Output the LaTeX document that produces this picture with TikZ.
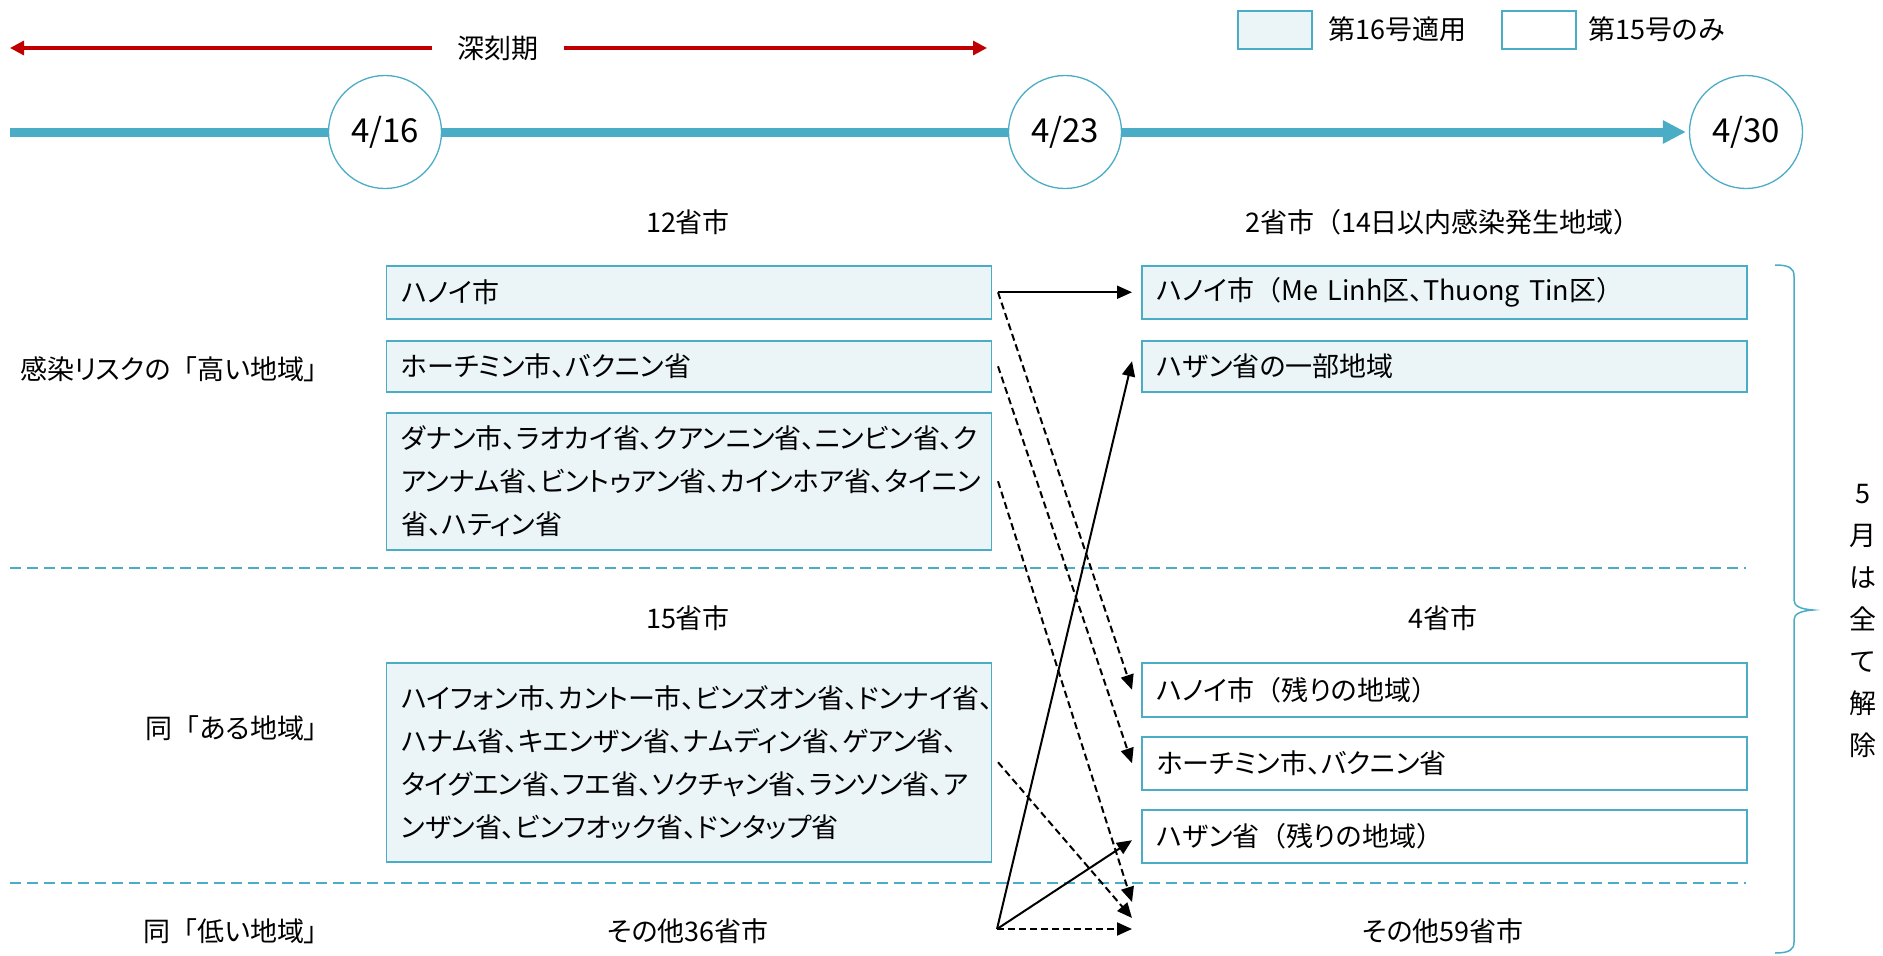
\documentclass[tikz,border=0pt]{standalone}
\usepackage{fontspec}
\setmainfont{Noto Sans CJK JP}[RawFeature={+palt}]
\newfontfamily\jpnopalt{Noto Sans CJK JP}
\newcommand\fwlp{{\jpnopalt （}}
\newcommand\fwrp{{\jpnopalt ）}}
\newcommand\fwlb{{\jpnopalt 「}}
\usetikzlibrary{arrows.meta,backgrounds}
\definecolor{aqua}{HTML}{4BACC6}
\definecolor{lightaqua}{HTML}{EBF5F8}
\definecolor{deepred}{HTML}{C00000}
\newcommand\fsbody{\fontsize{27}{43}\selectfont}
\newcommand\fsday{\fontsize{33}{38}\selectfont}
\tikzset{
  box/.style={draw=aqua, line width=1.5pt, fill=lightaqua, inner xsep=15pt, inner ysep=0pt,
    text width=575pt, align=left, anchor=north west, font=\fsbody},
  wbox/.style={box, fill=white},
  day/.style={circle, draw=aqua, line width=1.3pt, fill=white, minimum size=113pt, inner sep=0pt, font=\fsday},
  lbl/.style={font=\fsbody, inner sep=0pt},
  sol/.style={line width=2pt, -{Triangle[length=15pt,width=13pt]}},
  dsh/.style={sol, dash pattern=on 7pt off 4pt},
  sepline/.style={draw=aqua, line width=1.2pt, dash pattern=on 11pt off 6pt},
  legbox/.style={draw=aqua, line width=1.5pt, minimum width=74pt, minimum height=38pt, anchor=north west, inner sep=0pt},
  bracecol/.style={draw=aqua, line width=1.5pt},
}
\begin{document}
\begin{tikzpicture}[x=1pt,y=-1pt]
\useasboundingbox (0,0) rectangle (1883,956);

% legend
\node[legbox, fill=lightaqua] (lg1) at (1237,10) {};
\node[lbl, anchor=west] (lg1t) at (1328,29) {第16号適用};
\node[legbox, fill=white] (lg2) at (1501,10) {};
\node[lbl, anchor=west] (lg2t) at (1588,29) {第15号のみ};

% deep period
\node[lbl] (deep) at (498,48) {深刻期};
\coordinate (rl) at (10,48);
\coordinate (rr) at (987,48);
\draw[deepred, line width=3.2pt, -{Triangle[length=14pt,width=14pt]}] ([xshift=-25pt]deep.west) -- (rl);
\draw[deepred, line width=3.2pt, -{Triangle[length=14pt,width=14pt]}] ([xshift=25pt]deep.east) -- (rr);

% timeline
\node[day] (d16) at (385,132) {4/16};
\node[day] (d23) at (1065,132) {4/23};
\node[day] (d30) at (1746,132) {4/30};
\coordinate (tl0) at (10,132);
\begin{scope}[on background layer]
\draw[aqua, line width=9pt, -{Triangle[length=23pt,width=22pt]}] (tl0) -- ([xshift=-3pt]d30.west);
\end{scope}

% headers
\node[lbl] (h12) at (688,222) {12省市};
\node[lbl] (h2) at (1443,222) {2省市\fwlp 14日以内感染発生地域\fwrp};
\node[lbl] (h15) at (688,618) {15省市};
\node[lbl] (h4) at (1443,618) {4省市};
\node[lbl] (o36) at (688,931) {その他36省市};
\node[lbl] (o59) at (1443,931) {その他59省市};

% left labels
\node[lbl, anchor=east] (lhigh) at (318,369) {感染リスクの\fwlb 高い地域」};
\node[lbl, anchor=east] (lmid) at (318,728) {同\fwlb ある地域」};
\node[lbl, anchor=east] (llow) at (318,931) {同\fwlb 低い地域」};

% left boxes
\node[box, minimum height=53pt] (A) at (385.5,265) {ハノイ市};
\node[box, minimum height=51pt] (B) at (385.5,340) {ホーチミン市、バクニン省};
\node[box, minimum height=137pt] (C) at (385.5,412) {ダナン市、ラオカイ省、クアンニン省、ニンビン省、ク\\アンナム省、ビントゥアン省、カインホア省、タイニン\\省、ハティン省};
\node[box, minimum height=199pt] (D) at (385.5,662) {ハイフォン市、カントー市、ビンズオン省、ドンナイ省、\\ハナム省、キエンザン省、ナムディン省、ゲアン省、\\タイグエン省、フエ省、ソクチャン省、ランソン省、ア\\ンザン省、ビンフオック省、ドンタップ省};

% right boxes
\node[box, minimum height=53pt] (R1) at (1141,265) {ハノイ市\fwlp Me Linh区、Thuong Tin区\fwrp};
\node[box, minimum height=51pt] (R2) at (1141,340) {ハザン省の一部地域};
\node[wbox, minimum height=54pt] (R3) at (1141,662) {ハノイ市\fwlp 残りの地域\fwrp};
\node[wbox, minimum height=53pt] (R4) at (1141,736) {ホーチミン市、バクニン省};
\node[wbox, minimum height=53pt] (R5) at (1141,809) {ハザン省\fwlp 残りの地域\fwrp};

% separators
\coordinate (s1a) at (10,568); \coordinate (s1b) at (1746,568);
\coordinate (s2a) at (10,883); \coordinate (s2b) at (1746,883);
\draw[sepline] (s1a) -- (s1b);
\draw[sepline] (s2a) -- (s2b);

% connectors
\coordinate (s36) at (997,929);
\coordinate (t59a) at (1132,902);
\coordinate (t59b) at (1132,918);
\coordinate (t59c) at (1132,929);
\draw[sol] ([xshift=6pt]A.east) -- ([xshift=-9pt]R1.west);
\draw[dsh] ([xshift=6pt]A.east) -- ([xshift=-9pt]R3.west);
\draw[dsh] ([xshift=6pt]B.east) -- ([xshift=-9pt]R4.west);
\draw[dsh] ([xshift=6pt]C.east) -- (t59a);
\draw[dsh] ([xshift=6pt]D.east) -- (t59b);
\draw[dsh] (s36) -- (t59c);
\draw[sol] (s36) -- ([xshift=-9pt,yshift=5pt]R2.west);
\draw[sol] (s36) -- ([xshift=-9pt,yshift=-4pt]R5.west);

% brace
\draw[bracecol] (1775,265) .. controls (1789,265) and (1794,268) .. (1794,276) -- (1794,600)
  .. controls (1794,606) and (1800,609) .. (1813,610)
  .. controls (1800,611) and (1794,614) .. (1794,620) -- (1794,942)
  .. controls (1794,950) and (1789,953) .. (1775,953);

% vertical text
\node[lbl, align=center, font=\fontsize{27}{42}\selectfont] (may) at (1863,621) {5\\月\\は\\全\\て\\解\\除};
\end{tikzpicture}
\end{document}
